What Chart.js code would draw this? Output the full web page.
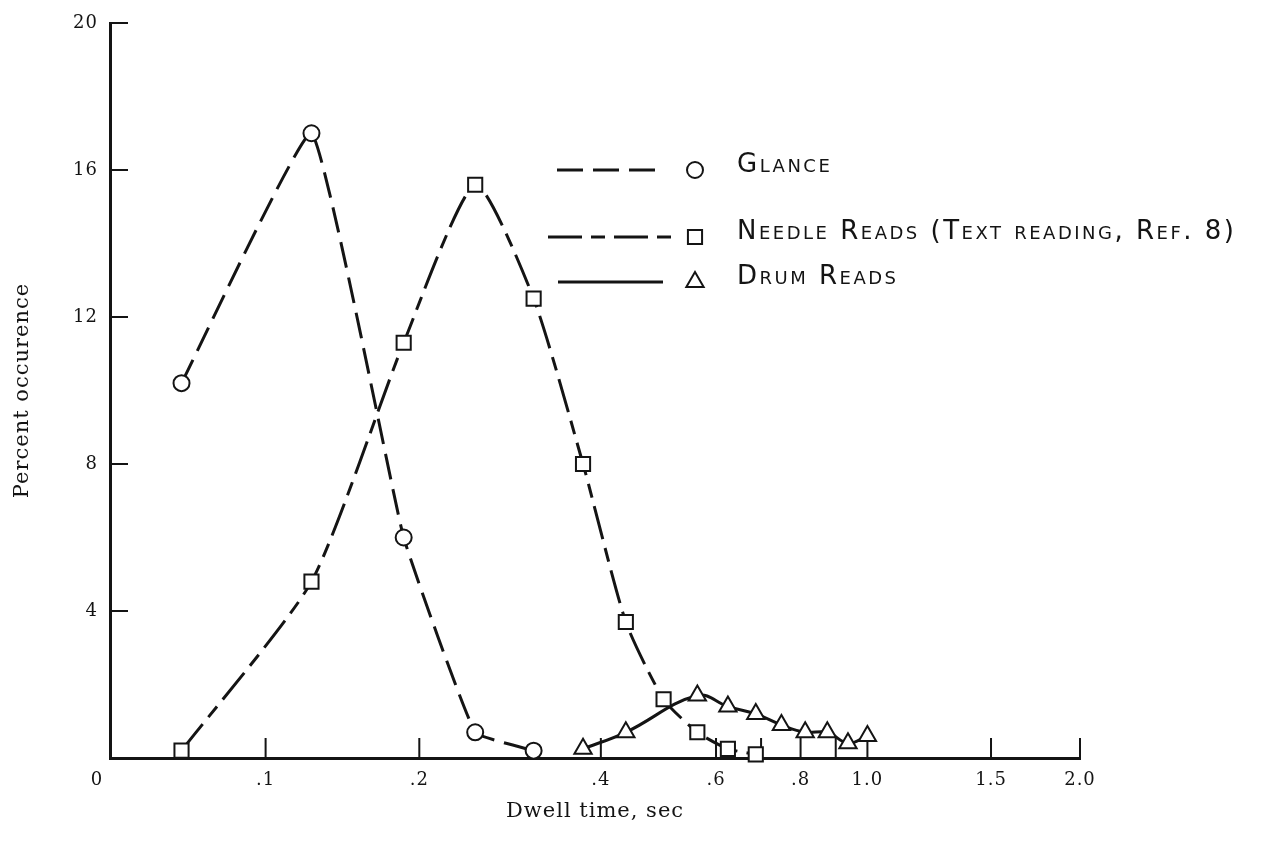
<!DOCTYPE html>
<html>
<head>
<meta charset="utf-8">
<title>Dwell time distribution</title>
<script src="https://cdn.jsdelivr.net/npm/chart.js@4.4.1/dist/chart.umd.min.js"></script>
<style>
  html, body { margin: 0; padding: 0; background: #fff; }
  #wrap { width: 1264px; height: 843px; position: relative; }
</style>
</head>
<body>
<div id="wrap"><canvas id="dwellChart"></canvas></div>
<script>
// dwell time bins are 1/16 sec wide
const glanceTimes = [0.0625, 0.125, 0.1875, 0.25, 0.3125];
const glancePct = [10.2, 17.0, 6.0, 0.7, 0.2];

const needleTimes = [0.0625, 0.125, 0.1875, 0.25, 0.3125, 0.375, 0.4375, 0.5, 0.5625, 0.625, 0.6875];
const needlePct = [0.2, 4.8, 11.3, 15.6, 12.5, 8.0, 3.7, 1.6, 0.7, 0.25, 0.1];

const drumTimes = [0.375, 0.4375, 0.5625, 0.625, 0.6875, 0.75, 0.8125, 0.875, 0.9375, 1.0];
const drumPct = [0.25, 0.7, 1.7, 1.4, 1.2, 0.9, 0.7, 0.7, 0.4, 0.6];

const seriesNames = ['Glance', 'Needle Reads (Text reading, Ref. 8)', 'Drum Reads'];

const xTickValues = [0.1, 0.2, 0.4, 0.6, 0.7, 0.8, 0.9, 1.0, 1.5, 2.0];
const xTickLabels = ['.1', '.2', '.4', '.6', '', '.8', '', '1.0', '1.5', '2.0'];
const yTickValues = [4, 8, 12, 16, 20];

// the time axis is logarithmic in (t + 1/16)
const X_SHIFT = 1 / 16;
const X_MIN = 0.0375;
const X_MAX = 2.0;

const ink = '#141414';
const serif = '"DejaVu Serif", "Liberation Serif", serif';
const lettering = '"DejaVu Sans", "Liberation Sans", sans-serif';

const toPoints = (times, values) => times.map((t, i) => ({ x: t + X_SHIFT, y: values[i] }));

const baseSet = {
  borderColor: ink,
  borderWidth: 3,
  pointBackgroundColor: '#fff',
  pointBorderColor: ink,
  pointBorderWidth: 2,
  fill: false,
  clip: false
};

const datasets = [
  Object.assign({}, baseSet, {
    label: seriesNames[0],
    data: toPoints(glanceTimes, glancePct),
    borderDash: [26, 10],
    pointStyle: 'circle',
    pointRadius: 8,
    tension: 0.1
  }),
  Object.assign({}, baseSet, {
    label: seriesNames[1],
    data: toPoints(needleTimes, needlePct),
    borderDash: [34, 9, 14, 9],
    pointStyle: 'rect',
    pointRadius: 10,
    tension: 0.2
  }),
  Object.assign({}, baseSet, {
    label: seriesNames[2],
    data: toPoints(drumTimes, drumPct),
    borderDash: [],
    pointStyle: 'triangle',
    pointRadius: 10,
    tension: 0.4
  })
];

// short inward ticks plus the "0" at the origin
const innerTicks = {
  id: 'innerTicks',
  beforeDraw(chart) {
    chart.ctx.letterSpacing = '1px';
  },
  beforeDatasetsDraw(chart) {
    const { ctx, scales: { x, y } } = chart;
    ctx.save();
    ctx.strokeStyle = ink;
    ctx.lineWidth = 2;
    ctx.beginPath();
    xTickValues.forEach(t => {
      const px = x.getPixelForValue(t + X_SHIFT);
      ctx.moveTo(px, y.bottom);
      ctx.lineTo(px, y.bottom - 20);
    });
    yTickValues.forEach(v => {
      const py = y.getPixelForValue(v);
      ctx.moveTo(x.left, py);
      ctx.lineTo(x.left + 18, py);
    });
    ctx.stroke();
    ctx.fillStyle = ink;
    ctx.font = '18px ' + serif;
    ctx.textAlign = 'center';
    ctx.textBaseline = 'middle';
    ctx.fillText('0', x.left - 13, y.bottom + 22);
    ctx.restore();
  }
};

// key drawn inside the plot, like the original figure
const legendRows = [
  { lineFrom: 557, lineTo: 663, y: 170 },
  { lineFrom: 548, lineTo: 677, y: 237 },
  { lineFrom: 558, lineTo: 663, y: 282 }
];

const keyBox = {
  id: 'keyBox',
  afterDraw(chart) {
    const { ctx } = chart;
    ctx.save();
    chart.data.datasets.forEach((ds, i) => {
      const row = legendRows[i];
      ctx.strokeStyle = ink;
      ctx.lineWidth = 3;
      ctx.setLineDash(ds.borderDash);
      ctx.beginPath();
      ctx.moveTo(row.lineFrom, row.y);
      ctx.lineTo(row.lineTo, row.y);
      ctx.stroke();
      ctx.setLineDash([]);
      ctx.lineWidth = 2;
      ctx.fillStyle = '#fff';
      Chart.helpers.drawPoint(ctx, {
        pointStyle: ds.pointStyle,
        radius: ds.pointRadius,
        borderWidth: 2,
        rotation: 0
      }, 695, row.y);
      ctx.fillStyle = ink;
      ctx.font = 'small-caps 26px ' + lettering;
      ctx.letterSpacing = '2.5px';
      ctx.textAlign = 'left';
      ctx.textBaseline = 'alphabetic';
      ctx.fillText(ds.label, 737, row.y + 2);
    });
    ctx.restore();
  }
};

new Chart(document.getElementById('dwellChart'), {
  type: 'line',
  data: { datasets: datasets },
  options: {
    responsive: true,
    maintainAspectRatio: false,
    animation: false,
    layout: { padding: { top: 23, right: 184, left: 0, bottom: 0 } },
    plugins: {
      legend: { display: false },
      tooltip: { enabled: false }
    },
    scales: {
      x: {
        type: 'logarithmic',
        min: X_MIN + X_SHIFT,
        max: X_MAX + X_SHIFT,
        afterBuildTicks(scale) {
          scale.ticks = xTickValues.map(t => ({ value: t + X_SHIFT }));
        },
        afterFit(scale) { scale.height = 85; },
        grid: { drawOnChartArea: false, drawTicks: false, color: ink },
        border: { display: true, width: 3, color: ink },
        ticks: {
          autoSkip: false,
          maxRotation: 0,
          padding: 12,
          color: ink,
          font: { family: serif, size: 18 },
          callback(value) {
            const i = xTickValues.findIndex(t => Math.abs(t + X_SHIFT - value) < 1e-6);
            return i >= 0 ? xTickLabels[i] : '';
          }
        },
        title: {
          display: true,
          text: 'Dwell time, sec',
          color: ink,
          font: { family: serif, size: 21 },
          padding: { top: 0, bottom: 19 }
        }
      },
      y: {
        min: 0,
        max: 20,
        afterBuildTicks(scale) {
          scale.ticks = [0].concat(yTickValues).map(v => ({ value: v }));
        },
        afterFit(scale) { scale.width = 110; },
        grid: { drawOnChartArea: false, drawTicks: false, color: ink },
        border: { display: true, width: 3, color: ink },
        ticks: {
          padding: 12,
          color: ink,
          font: { family: serif, size: 18 },
          callback: v => (v === 0 ? '' : v)
        },
        title: {
          display: true,
          text: 'Percent occurence',
          color: ink,
          font: { family: serif, size: 21 },
          padding: { top: 10, bottom: 0 }
        }
      }
    }
  },
  plugins: [innerTicks, keyBox]
});
</script>
</body>
</html>
